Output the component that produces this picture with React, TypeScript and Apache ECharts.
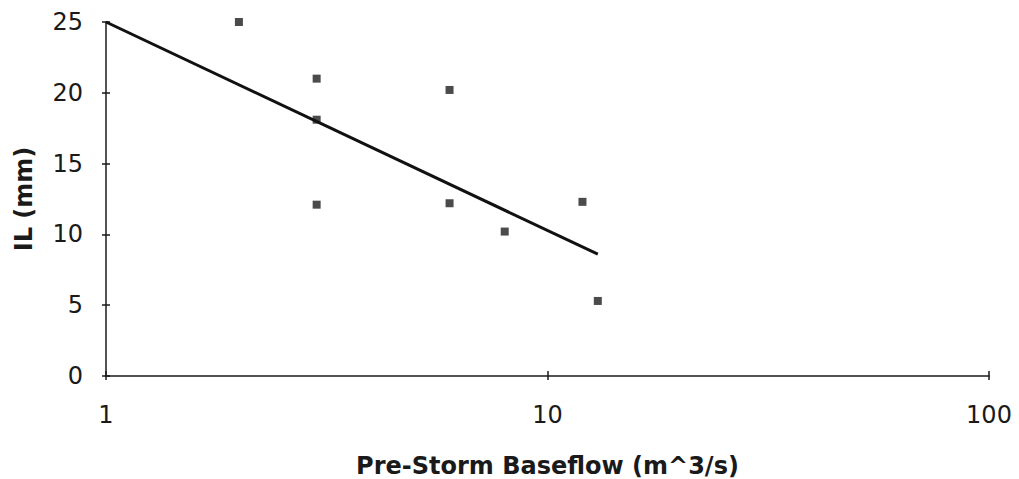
import React, { useEffect, useRef } from "react";
import * as echarts from "echarts";

const baseflow = [2, 3, 3, 3, 6, 6, 8, 12, 13];
const ilValues = [25, 21, 18.1, 12.1, 20.2, 12.2, 10.2, 12.3, 5.3];
const trendX = [1, 13];
const trendY = [25, 8.6];
const yTicks = { min: 0, max: 25, interval: 5 };
const xRange = { min: 1, max: 100 };

export default function App() {
  const ref = useRef<HTMLDivElement>(null);
  useEffect(() => {
    if (!ref.current) return;
    const chart = echarts.init(ref.current, null, { renderer: "svg" });
    const font = "'DejaVu Sans', Verdana, sans-serif";
    const ink = "#1a1a1a";
    const labelStyle = { fontFamily: font, fontSize: 24, color: ink };
    chart.setOption({
      animation: false,
      backgroundColor: "#ffffff",
      grid: { left: 106, right: 30, top: 22, bottom: 103, outerBoundsMode: "none", containLabel: false },
      xAxis: [
        {
          type: "log",
          logBase: 10,
          min: xRange.min,
          max: xRange.max,
          position: "bottom",
          name: "Pre-Storm Baseflow (m^3/s)",
          nameLocation: "middle",
          nameGap: 78,
          nameTextStyle: { fontFamily: font, fontSize: 24, fontWeight: "bold", color: ink },
          axisLine: { show: true, lineStyle: { color: ink, width: 1.5 } },
          axisTick: { show: true, inside: false, length: 4, lineStyle: { color: ink, width: 1.5 } },
          axisLabel: { ...labelStyle, margin: 27 },
          splitLine: { show: false },
          minorTick: { show: false },
        },
        {
          type: "log",
          logBase: 10,
          min: xRange.min,
          max: xRange.max,
          position: "bottom",
          gridIndex: 0,
          axisLine: { show: false },
          axisTick: { show: true, inside: true, length: 5, lineStyle: { color: ink, width: 1.5 } },
          axisLabel: { show: false },
          splitLine: { show: false },
        },
      ],
      yAxis: [
        {
          type: "value",
          min: yTicks.min,
          max: yTicks.max,
          interval: yTicks.interval,
          position: "left",
          name: "IL (mm)",
          nameLocation: "middle",
          nameGap: 70,
          nameRotate: 90,
          nameTextStyle: { fontFamily: font, fontSize: 24, fontWeight: "bold", color: ink },
          axisLine: { show: true, lineStyle: { color: ink, width: 1.5 } },
          axisTick: { show: true, inside: false, length: 4, lineStyle: { color: ink, width: 1.5 } },
          axisLabel: { ...labelStyle, margin: 23 },
          splitLine: { show: false },
        },
        {
          type: "value",
          min: yTicks.min,
          max: yTicks.max,
          interval: yTicks.interval,
          position: "left",
          gridIndex: 0,
          axisLine: { show: false },
          axisTick: { show: true, inside: true, length: 4, lineStyle: { color: ink, width: 1.5 } },
          axisLabel: { show: false },
          splitLine: { show: false },
        },
      ],
      series: [
        {
          type: "scatter",
          xAxisIndex: 0,
          yAxisIndex: 0,
          data: baseflow.map((x, i) => [x, ilValues[i]]),
          symbol: "rect",
          symbolSize: 8,
          itemStyle: { color: "#1e1e1e" },
        },
        {
          type: "line",
          xAxisIndex: 0,
          yAxisIndex: 0,
          data: trendX.map((x, i) => [x, trendY[i]]),
          showSymbol: false,
          symbol: "none",
          lineStyle: { color: "#111111", width: 3 },
        },
      ],
    });
    return () => chart.dispose();
  }, []);
  return (
    <div
      ref={ref}
      style={{ position: "fixed", left: 0, top: 0, width: 1019, height: 479, background: "#fff" }}
    />
  );
}
